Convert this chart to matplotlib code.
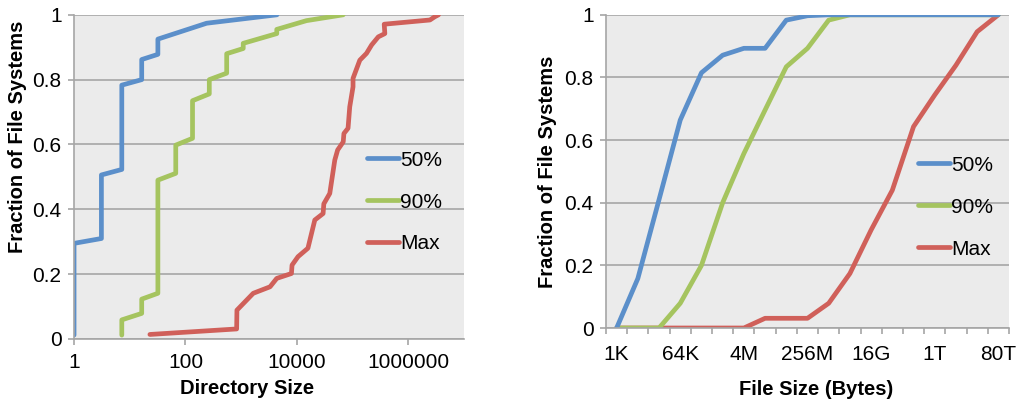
import matplotlib
matplotlib.use("Agg")
import matplotlib.pyplot as plt
from matplotlib.ticker import FixedLocator, NullLocator

plt.rcParams['font.family'] = ['Liberation Sans', 'DejaVu Sans']

# left chart: directory size CDF
dir_50_x = [1, 1, 3.1, 3.1, 7.2, 7.2, 16.4, 16.4, 32, 32, 240, 4400]
dir_50_y = [0.012, 0.295, 0.31, 0.506, 0.523, 0.783, 0.80, 0.862, 0.878, 0.925, 0.974, 1.0]

dir_90_x = [7.2, 7.2, 16.4, 16.4, 32, 32, 67, 67, 134, 134, 268, 268, 550, 550,
            1090, 1090, 4360, 4360, 14900, 68000]
dir_90_y = [0.012, 0.059, 0.079, 0.123, 0.141, 0.49, 0.511, 0.598, 0.619, 0.735,
            0.756, 0.80, 0.82, 0.88, 0.896, 0.912, 0.942, 0.955, 0.982, 1.0]

dir_max_x = [23, 830, 840, 1650, 3300, 4360, 8000, 8200, 10500, 15800, 21000, 29600,
             30500, 39000, 48000, 54000, 68000, 70000, 83000, 89000, 102000, 102000,
             135000, 178000, 220000, 290000, 380000, 370000, 2.45e6, 3.0e6, 3.5e6]
dir_max_y = [0.014, 0.031, 0.089, 0.141, 0.161, 0.187, 0.202, 0.228, 0.254, 0.28,
             0.367, 0.387, 0.417, 0.449, 0.552, 0.583, 0.608, 0.634, 0.65, 0.716,
             0.778, 0.804, 0.86, 0.881, 0.907, 0.932, 0.942, 0.971, 0.984, 0.994, 1.0]

# right chart: file size CDF, categories step by 4x
size_cats = ['1K', '4K', '16K', '64K', '256K', '1M', '4M', '16M', '64M', '256M',
             '1G', '4G', '16G', '64G', '256G', '1T', '4T', '16T', '80T']
file_50 = [0, 0.158, 0.41, 0.664, 0.815, 0.871, 0.893, 0.893, 0.983, 0.997,
           1, 1, 1, 1, 1, 1, 1, 1, 1]
file_90 = [0, 0, 0, 0.079, 0.20, 0.40, 0.557, 0.696, 0.834, 0.893,
           0.983, 1, 1, 1, 1, 1, 1, 1, 1]
file_max = [0, 0, 0, 0, 0, 0, 0, 0.031, 0.031, 0.031,
            0.079, 0.174, 0.313, 0.44, 0.643, 0.744, 0.839, 0.946, 1.0]

blue = '#5b8fca'
green = '#a5c45f'
red = '#d0605a'
grid_c = '#a6a6a6'
lw = 3.4
tick_fs = 15
lab_fs = 14.5

fig = plt.figure(figsize=(10.17, 4.0), dpi=100)
ax1 = fig.add_axes([0.0728, 0.1525, 0.3834, 0.8105])
ax2 = fig.add_axes([0.5959, 0.18, 0.3962, 0.783])

line_kw = dict(lw=lw, solid_capstyle='round', solid_joinstyle='round')
leg_kw = dict(loc='center left', frameon=False, fontsize=tick_fs, handlelength=1.55,
              handletextpad=0.05, labelspacing=1.1, borderpad=0, borderaxespad=0)


def style(ax):
    ax.set_facecolor('#ebebeb')
    ax.set_ylim(0, 1)
    ax.set_yticks([0, 0.2, 0.4, 0.6, 0.8, 1])
    ax.set_yticklabels(['0', '0.2', '0.4', '0.6', '0.8', '1'])
    ax.yaxis.grid(True, color=grid_c, linewidth=1.2)
    ax.set_axisbelow(True)
    for s in ['top', 'right']:
        ax.spines[s].set_visible(False)
    for s in ['left', 'bottom']:
        ax.spines[s].set_color(grid_c)
        ax.spines[s].set_linewidth(1.2)
    ax.tick_params(axis='y', length=4, color=grid_c, width=1.2, labelsize=tick_fs, pad=5)
    ax.tick_params(axis='x', labelsize=tick_fs)


# left
style(ax1)
ax1.plot(dir_50_x, dir_50_y, color=blue, label='50%', **line_kw)
ax1.plot(dir_90_x, dir_90_y, color=green, label='90%', **line_kw)
ax1.plot(dir_max_x, dir_max_y, color=red, label='Max', **line_kw)
ax1.set_xscale('log')
ax1.set_xlim(1, 1e7)
ax1.xaxis.set_major_locator(FixedLocator([1, 100, 10000, 1000000]))
ax1.xaxis.set_minor_locator(NullLocator())
ax1.set_xticklabels(['1', '100', '10000', '1000000'])
ax1.tick_params(axis='x', length=4, color=grid_c, width=1.2, pad=6)
ax1.set_xlabel('Directory Size', fontsize=lab_fs, fontweight='bold')
ax1.xaxis.set_label_coords(0.445, -0.124)
ax1.set_ylabel('Fraction of File Systems', fontsize=lab_fs, fontweight='bold')
ax1.yaxis.set_label_coords(-0.1205, 0.624)
ax1.legend(bbox_to_anchor=(0.751, 0.4225), **leg_kw)

# right
style(ax2)
xs = list(range(len(size_cats)))
ax2.plot(xs, file_max, color=red, label='Max', **line_kw)
ax2.plot(xs, file_90, color=green, label='90%', **line_kw)
ax2.plot(xs, file_50, color=blue, label='50%', **line_kw)
ax2.set_xlim(-0.5, len(size_cats) - 0.5)
ax2.set_xticks(xs[::3])
ax2.set_xticklabels(size_cats[::3])
ax2.set_xticks([i - 0.5 for i in range(len(size_cats) + 1)], minor=True)
ax2.tick_params(axis='x', which='major', length=0, pad=12)
ax2.tick_params(axis='x', which='minor', length=4, color=grid_c, width=1.2)
ax2.set_xlabel('File Size (Bytes)', fontsize=lab_fs, fontweight='bold')
ax2.xaxis.set_label_coords(0.522, -0.166)
ax2.set_ylabel('Fraction of File Systems', fontsize=lab_fs, fontweight='bold')
ax2.yaxis.set_label_coords(-0.1216, 0.5)
h, l = ax2.get_legend_handles_labels()
ax2.legend(h[::-1], l[::-1], bbox_to_anchor=(0.774, 0.386), **leg_kw)

fig.savefig('out.png', dpi=100)
